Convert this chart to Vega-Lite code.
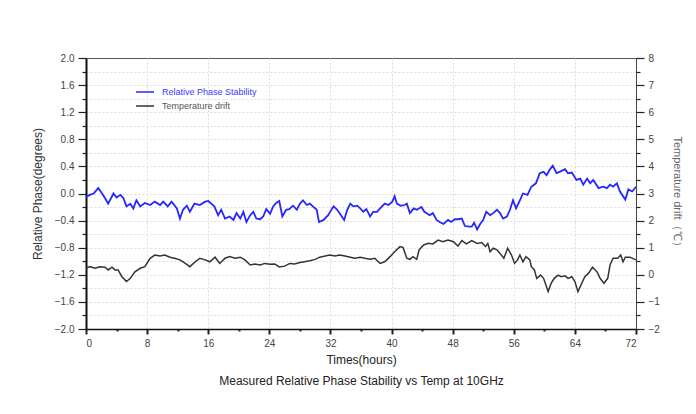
{
  "$schema": "https://vega.github.io/schema/vega-lite/v6.json",
  "width": 550,
  "height": 271,
  "autosize": {"type": "none"},
  "padding": {"left": 86, "top": 58, "right": 60, "bottom": 85},
  "background": "white",
  "config": {
    "font": "Liberation Sans",
    "view": {"stroke": "#555", "strokeWidth": 1},
    "axis": {
      "labelFont": "Liberation Sans",
      "titleFont": "Liberation Sans",
      "labelColor": "#444",
      "labelFontSize": 10,
      "titleFontWeight": "normal",
      "titleFontSize": 12,
      "titleColor": "#333",
      "tickColor": "#222",
      "gridColor": "#dcdcdc",
      "gridDash": [2, 2],
      "gridWidth": 1
    }
  },
  "datasets": {
    "phase": [
      {"h": 0, "v": -0.05}, {"h": 0.5, "v": -0.02}, {"h": 1.0, "v": 0.0}, {"h": 1.6, "v": 0.08},
      {"h": 2.1, "v": 0.0}, {"h": 2.5, "v": -0.07}, {"h": 2.9, "v": -0.15}, {"h": 3.6, "v": 0.0},
      {"h": 4.0, "v": -0.06}, {"h": 4.5, "v": -0.02}, {"h": 4.9, "v": -0.07}, {"h": 5.3, "v": -0.19},
      {"h": 5.8, "v": -0.15}, {"h": 6.2, "v": -0.22}, {"h": 6.6, "v": -0.10}, {"h": 7.1, "v": -0.19},
      {"h": 7.7, "v": -0.14}, {"h": 8.4, "v": -0.17}, {"h": 9.0, "v": -0.12}, {"h": 9.7, "v": -0.17},
      {"h": 10.1, "v": -0.12}, {"h": 10.7, "v": -0.19}, {"h": 11.2, "v": -0.12}, {"h": 11.9, "v": -0.22},
      {"h": 12.3, "v": -0.37}, {"h": 12.7, "v": -0.24}, {"h": 13.2, "v": -0.18}, {"h": 13.6, "v": -0.27},
      {"h": 14.2, "v": -0.15}, {"h": 14.9, "v": -0.17}, {"h": 15.6, "v": -0.12}, {"h": 16.0, "v": -0.11},
      {"h": 16.4, "v": -0.15}, {"h": 16.8, "v": -0.19}, {"h": 17.3, "v": -0.32}, {"h": 17.7, "v": -0.24},
      {"h": 18.2, "v": -0.37}, {"h": 18.8, "v": -0.34}, {"h": 19.3, "v": -0.39}, {"h": 19.7, "v": -0.29},
      {"h": 20.2, "v": -0.37}, {"h": 20.6, "v": -0.27}, {"h": 21.0, "v": -0.42}, {"h": 21.5, "v": -0.32},
      {"h": 21.9, "v": -0.27}, {"h": 22.3, "v": -0.37}, {"h": 22.8, "v": -0.38}, {"h": 23.2, "v": -0.34},
      {"h": 23.6, "v": -0.23}, {"h": 24.1, "v": -0.30}, {"h": 24.5, "v": -0.19}, {"h": 24.9, "v": -0.14},
      {"h": 25.3, "v": -0.11}, {"h": 25.7, "v": -0.34}, {"h": 26.2, "v": -0.24}, {"h": 26.6, "v": -0.23},
      {"h": 27.1, "v": -0.18}, {"h": 27.6, "v": -0.24}, {"h": 28.0, "v": -0.15}, {"h": 28.4, "v": -0.10},
      {"h": 28.9, "v": -0.17}, {"h": 29.3, "v": -0.15}, {"h": 29.7, "v": -0.19}, {"h": 30.2, "v": -0.24},
      {"h": 30.5, "v": -0.42}, {"h": 31.1, "v": -0.39}, {"h": 31.7, "v": -0.32}, {"h": 32.4, "v": -0.19},
      {"h": 32.8, "v": -0.23}, {"h": 33.2, "v": -0.29}, {"h": 33.8, "v": -0.39}, {"h": 34.2, "v": -0.24},
      {"h": 34.6, "v": -0.15}, {"h": 35.0, "v": -0.19}, {"h": 35.5, "v": -0.18}, {"h": 35.9, "v": -0.22},
      {"h": 36.3, "v": -0.27}, {"h": 36.7, "v": -0.23}, {"h": 37.2, "v": -0.34}, {"h": 37.6, "v": -0.27},
      {"h": 38.1, "v": -0.27}, {"h": 38.5, "v": -0.22}, {"h": 39.1, "v": -0.15}, {"h": 39.6, "v": -0.17},
      {"h": 40.1, "v": -0.12}, {"h": 40.4, "v": -0.04}, {"h": 40.7, "v": -0.15}, {"h": 41.2, "v": -0.18},
      {"h": 41.7, "v": -0.17}, {"h": 42.0, "v": -0.15}, {"h": 42.4, "v": -0.29}, {"h": 42.9, "v": -0.22},
      {"h": 43.3, "v": -0.24}, {"h": 43.9, "v": -0.20}, {"h": 44.3, "v": -0.27}, {"h": 45.0, "v": -0.32},
      {"h": 45.4, "v": -0.29}, {"h": 45.9, "v": -0.39}, {"h": 46.3, "v": -0.42}, {"h": 46.8, "v": -0.45},
      {"h": 47.4, "v": -0.39}, {"h": 47.8, "v": -0.42}, {"h": 48.3, "v": -0.38}, {"h": 48.7, "v": -0.38},
      {"h": 49.2, "v": -0.37}, {"h": 49.6, "v": -0.48}, {"h": 50.2, "v": -0.49}, {"h": 50.5, "v": -0.49},
      {"h": 50.8, "v": -0.43}, {"h": 51.2, "v": -0.53}, {"h": 51.6, "v": -0.45}, {"h": 52.0, "v": -0.39},
      {"h": 52.4, "v": -0.27}, {"h": 52.9, "v": -0.32}, {"h": 53.3, "v": -0.29}, {"h": 53.8, "v": -0.24},
      {"h": 54.2, "v": -0.29}, {"h": 54.6, "v": -0.37}, {"h": 55.1, "v": -0.34}, {"h": 55.5, "v": -0.24},
      {"h": 55.9, "v": -0.10}, {"h": 56.3, "v": -0.22}, {"h": 56.8, "v": -0.10}, {"h": 57.2, "v": 0.0},
      {"h": 57.8, "v": -0.02}, {"h": 58.3, "v": 0.10}, {"h": 58.9, "v": 0.15}, {"h": 59.4, "v": 0.30},
      {"h": 59.9, "v": 0.32}, {"h": 60.3, "v": 0.27}, {"h": 60.7, "v": 0.35}, {"h": 61.1, "v": 0.41},
      {"h": 61.6, "v": 0.30}, {"h": 62.0, "v": 0.32}, {"h": 62.7, "v": 0.36}, {"h": 63.1, "v": 0.30},
      {"h": 63.6, "v": 0.31}, {"h": 64.2, "v": 0.20}, {"h": 64.7, "v": 0.22}, {"h": 65.1, "v": 0.13},
      {"h": 65.6, "v": 0.22}, {"h": 66.0, "v": 0.15}, {"h": 66.4, "v": 0.20}, {"h": 67.1, "v": 0.08},
      {"h": 67.7, "v": 0.10}, {"h": 68.2, "v": 0.08}, {"h": 68.6, "v": 0.13}, {"h": 69.0, "v": 0.10},
      {"h": 69.5, "v": 0.15}, {"h": 69.9, "v": 0.03}, {"h": 70.6, "v": -0.09}, {"h": 71.0, "v": 0.06},
      {"h": 71.5, "v": 0.03}, {"h": 72.0, "v": 0.10}
    ],
    "temp": [
      {"h": 0, "t": 0.24}, {"h": 0.5, "t": 0.30}, {"h": 1.2, "t": 0.24}, {"h": 1.8, "t": 0.30},
      {"h": 2.5, "t": 0.28}, {"h": 2.9, "t": 0.18}, {"h": 3.4, "t": 0.28}, {"h": 3.8, "t": 0.18},
      {"h": 4.2, "t": 0.18}, {"h": 4.7, "t": -0.07}, {"h": 5.3, "t": -0.25}, {"h": 5.8, "t": -0.13},
      {"h": 6.4, "t": 0.11}, {"h": 7.1, "t": 0.24}, {"h": 7.7, "t": 0.30}, {"h": 8.4, "t": 0.61},
      {"h": 9.0, "t": 0.73}, {"h": 9.7, "t": 0.69}, {"h": 10.3, "t": 0.73}, {"h": 11.0, "t": 0.65},
      {"h": 11.6, "t": 0.61}, {"h": 12.3, "t": 0.55}, {"h": 13.0, "t": 0.42}, {"h": 13.6, "t": 0.30},
      {"h": 14.3, "t": 0.48}, {"h": 14.9, "t": 0.61}, {"h": 15.6, "t": 0.55}, {"h": 16.2, "t": 0.48},
      {"h": 16.9, "t": 0.65}, {"h": 17.5, "t": 0.42}, {"h": 18.2, "t": 0.61}, {"h": 18.8, "t": 0.67},
      {"h": 19.5, "t": 0.61}, {"h": 20.2, "t": 0.65}, {"h": 20.8, "t": 0.55}, {"h": 21.5, "t": 0.36},
      {"h": 22.1, "t": 0.40}, {"h": 22.8, "t": 0.36}, {"h": 23.4, "t": 0.42}, {"h": 24.1, "t": 0.39},
      {"h": 24.7, "t": 0.40}, {"h": 25.3, "t": 0.29}, {"h": 26.0, "t": 0.32}, {"h": 26.7, "t": 0.42},
      {"h": 27.3, "t": 0.40}, {"h": 28.0, "t": 0.45}, {"h": 28.6, "t": 0.48}, {"h": 29.3, "t": 0.52},
      {"h": 30.0, "t": 0.57}, {"h": 30.6, "t": 0.65}, {"h": 31.3, "t": 0.69}, {"h": 31.9, "t": 0.73},
      {"h": 32.6, "t": 0.69}, {"h": 33.2, "t": 0.73}, {"h": 33.9, "t": 0.69}, {"h": 34.6, "t": 0.65},
      {"h": 35.2, "t": 0.61}, {"h": 35.9, "t": 0.65}, {"h": 36.5, "t": 0.61}, {"h": 37.2, "t": 0.57},
      {"h": 37.8, "t": 0.61}, {"h": 38.5, "t": 0.42}, {"h": 39.1, "t": 0.48}, {"h": 39.8, "t": 0.67},
      {"h": 40.4, "t": 0.85}, {"h": 41.1, "t": 1.04}, {"h": 41.5, "t": 1.01}, {"h": 42.0, "t": 0.61},
      {"h": 42.4, "t": 0.57}, {"h": 42.8, "t": 0.67}, {"h": 43.3, "t": 0.57}, {"h": 43.6, "t": 0.92},
      {"h": 44.2, "t": 1.10}, {"h": 44.8, "t": 1.16}, {"h": 45.4, "t": 1.14}, {"h": 46.1, "t": 1.28},
      {"h": 46.7, "t": 1.22}, {"h": 47.4, "t": 1.28}, {"h": 48.1, "t": 1.22}, {"h": 48.7, "t": 1.06},
      {"h": 49.2, "t": 1.26}, {"h": 49.8, "t": 1.14}, {"h": 50.5, "t": 1.26}, {"h": 51.2, "t": 1.16},
      {"h": 51.8, "t": 1.19}, {"h": 52.3, "t": 1.04}, {"h": 52.6, "t": 1.16}, {"h": 52.9, "t": 0.85},
      {"h": 53.3, "t": 0.98}, {"h": 53.8, "t": 0.92}, {"h": 54.2, "t": 0.79}, {"h": 54.7, "t": 0.61},
      {"h": 55.2, "t": 0.98}, {"h": 55.7, "t": 0.73}, {"h": 56.1, "t": 0.42}, {"h": 56.5, "t": 0.55},
      {"h": 56.8, "t": 0.73}, {"h": 57.2, "t": 0.48}, {"h": 57.6, "t": 0.67}, {"h": 58.1, "t": 0.55},
      {"h": 58.3, "t": 0.30}, {"h": 58.7, "t": 0.18}, {"h": 59.0, "t": -0.13}, {"h": 59.5, "t": -0.01},
      {"h": 59.9, "t": -0.13}, {"h": 60.5, "t": -0.62}, {"h": 60.9, "t": -0.31}, {"h": 61.3, "t": -0.13},
      {"h": 61.8, "t": -0.01}, {"h": 62.2, "t": -0.07}, {"h": 62.7, "t": -0.04}, {"h": 63.1, "t": -0.13},
      {"h": 63.6, "t": -0.07}, {"h": 64.0, "t": -0.25}, {"h": 64.4, "t": -0.62}, {"h": 64.9, "t": -0.31},
      {"h": 65.3, "t": -0.07}, {"h": 65.8, "t": 0.06}, {"h": 66.3, "t": 0.28}, {"h": 66.9, "t": 0.11},
      {"h": 67.3, "t": -0.13}, {"h": 67.8, "t": -0.31}, {"h": 68.3, "t": -0.13}, {"h": 68.6, "t": 0.36},
      {"h": 69.0, "t": 0.61}, {"h": 69.6, "t": 0.61}, {"h": 70.0, "t": 0.73}, {"h": 70.3, "t": 0.48},
      {"h": 70.6, "t": 0.65}, {"h": 71.2, "t": 0.65}, {"h": 72.0, "t": 0.55}
    ]
  },
  "encoding": {
    "x": {
      "field": "h",
      "type": "quantitative",
      "scale": {"domain": [0, 72], "nice": false, "zero": false},
      "axis": {
        "values": [0, 4, 8, 12, 16, 20, 24, 28, 32, 36, 40, 44, 48, 52, 56, 60, 64, 68, 72],
        "labelExpr": "datum.value % 8 == 0 ? datum.label : ''",
        "tickSize": {"condition": {"test": "datum.value % 8 == 0", "value": 5}, "value": 2},
        "tickWidth": 2,
        "gridOpacity": {"condition": {"test": "datum.value % 8 == 0 && datum.value > 0 && datum.value < 72", "value": 1}, "value": 0},
        "labelPadding": 4,
        "domainColor": "#111",
        "domainWidth": 1.5,
        "title": ["Times(hours)", "Measured Relative Phase Stability vs Temp at 10GHz"],
        "titlePadding": 6,
        "titleLineHeight": 21,
        "titleColor": "#222"
      }
    }
  },
  "layer": [
    {
      "data": {"name": "phase"},
      "mark": {"type": "line", "strokeWidth": 1.8, "interpolate": "linear"},
      "encoding": {
        "y": {
          "field": "v",
          "type": "quantitative",
          "scale": {"domain": [-2, 2], "nice": false, "zero": false},
          "axis": {
            "orient": "left",
            "values": [-2, -1.8, -1.6, -1.4, -1.2, -1, -0.8, -0.6, -0.4, -0.2, 0, 0.2, 0.4, 0.6, 0.8, 1, 1.2, 1.4, 1.6, 1.8, 2],
            "labelExpr": "round(datum.value * 10) % 4 == 0 ? format(datum.value, '.1f') : ''",
            "tickSize": {"condition": {"test": "round(datum.value * 10) % 4 == 0", "value": 8}, "value": 4},
            "tickWidth": 1.2,
            "gridOpacity": {"condition": {"test": "abs(datum.value) > 1.9", "value": 0}, "value": 1},
            "labelPadding": 4,
            "domainColor": "#111",
            "domainWidth": 2,
            "title": "Relative Phase(degrees)",
            "titlePadding": 10
          }
        },
        "color": {
          "datum": "Relative Phase Stability",
          "type": "nominal",
          "scale": {"domain": ["Relative Phase Stability", "Temperature drift"], "range": ["#2626ff", "#333333"]},
          "legend": {
            "title": null,
            "orient": "none",
            "legendX": 52,
            "legendY": 27,
            "symbolType": "M-1.5,0H1.5",
            "symbolSize": 144,
            "symbolStrokeWidth": 1.5,
            "rowPadding": 2,
            "labelFontSize": 9,
            "labelFont": "Liberation Sans",
            "labelOffset": 10,
            "encode": {
              "labels": {
                "update": {"fill": {"signal": "datum.label === 'Relative Phase Stability' ? '#3a3aff' : '#555555'"}}
              }
            }
          }
        }
      }
    },
    {
      "data": {"name": "temp"},
      "mark": {"type": "line", "strokeWidth": 1.5, "interpolate": "linear"},
      "encoding": {
        "y": {
          "field": "t",
          "type": "quantitative",
          "scale": {"domain": [-2, 8], "nice": false, "zero": false},
          "axis": {
            "orient": "right",
            "grid": false,
            "values": [-2, -1.5, -1, -0.5, 0, 0.5, 1, 1.5, 2, 2.5, 3, 3.5, 4, 4.5, 5, 5.5, 6, 6.5, 7, 7.5, 8],
            "labelExpr": "datum.value % 1 == 0 ? format(datum.value, 'd') : ''",
            "tickSize": {"condition": {"test": "datum.value % 1 == 0", "value": 8}, "value": 4},
            "tickWidth": 1.2,
            "labelPadding": 4,
            "domainColor": "#444",
            "domainWidth": 1,
            "title": "Temperature drift（℃）",
            "titleColor": "#666",
            "titleFontSize": 11,
            "titlePadding": 12
          }
        },
        "color": {"datum": "Temperature drift", "type": "nominal"}
      }
    }
  ],
  "resolve": {"scale": {"y": "independent"}}
}
